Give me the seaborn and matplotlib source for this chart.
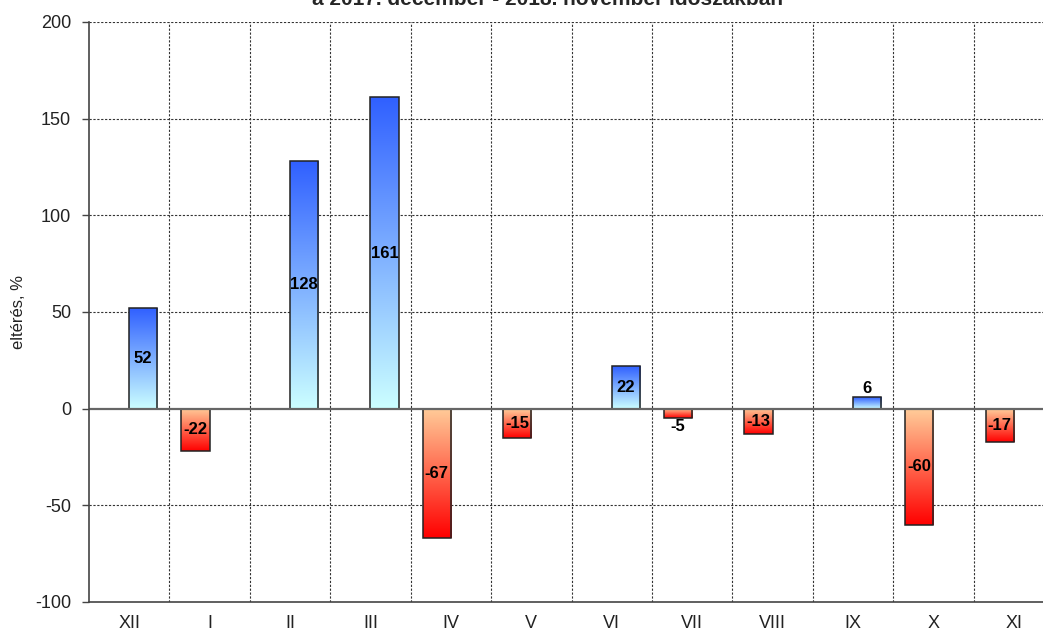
import numpy as np
import pandas as pd
import matplotlib
matplotlib.use("Agg")
import matplotlib.pyplot as plt
import seaborn as sns
from matplotlib.colors import LinearSegmentedColormap

months = ["XII", "I", "II", "III", "IV", "V", "VI", "VII", "VIII", "IX", "X", "XI"]
values = [52, -22, 128, 161, -67, -15, 22, -5, -13, 6, -60, -17]
title_text = "a 2017. december - 2018. november időszakban"
ylabel_text = "eltérés, %"
y_ticks = [-100, -50, 0, 50, 100, 150, 200]

df = pd.DataFrame({
    "month": months,
    "value": values,
    "sign": ["pos" if v > 0 else "neg" for v in values],
})

sns.set_theme(style="white")
plt.rcParams["font.family"] = ["Liberation Sans", "DejaVu Sans"]
plt.rcParams["axes.unicode_minus"] = False

fig = plt.figure(figsize=(10.43, 6.31), dpi=100)
ax = fig.add_axes([89 / 1043, 29 / 631, 965 / 1043, 580 / 631])

sns.barplot(data=df, x="month", y="value", hue="sign", hue_order=["neg", "pos"],
            order=months, width=0.7, dodge=True, legend=False, ax=ax,
            edgecolor="#222222", linewidth=1.1, saturation=1)

pos_cmap = LinearSegmentedColormap.from_list("pos", ["#ccffff", "#3060ff"])
neg_cmap = LinearSegmentedColormap.from_list("neg", ["#ff0000", "#ffcc99"])
grad = np.linspace(0, 1, 256).reshape(-1, 1)

for cont in ax.containers:
    for bar in cont:
        h = bar.get_height()
        if h is None or np.isnan(h) or h == 0:
            continue
        x0 = bar.get_x()
        w = bar.get_width()
        y0 = bar.get_y()
        ylo, yhi = min(y0, y0 + h), max(y0, y0 + h)
        cmap = pos_cmap if h > 0 else neg_cmap
        im = ax.imshow(grad, cmap=cmap, aspect="auto", origin="lower",
                       extent=[x0, x0 + w, ylo, yhi], zorder=1.5,
                       interpolation="bilinear")
        im.set_clip_path(bar)
        bar.set_facecolor("none")
        bar.set_zorder(2)
        xc = x0 + w / 2
        kw = dict(ha="center", fontsize=12, fontweight="bold", color="black", zorder=3)
        if abs(h) >= 10:
            ax.text(xc, (ylo + yhi) / 2, f"{h:.0f}", va="center", **kw)
        elif h > 0:
            ax.text(xc, yhi + 0.5, f"{h:.0f}", va="bottom", **kw)
        else:
            ax.text(xc, ylo - 0.5, f"{h:.0f}", va="top", **kw)

ax.set_xlim(-0.5, len(months) - 0.5)
ax.set_ylim(-100, 200)
ax.set_yticks(y_ticks)
ax.set_xlabel("")
ax.set_ylabel("")

# grid
for yv in y_ticks[1:]:
    if yv != 0:
        ax.axhline(yv, color="#333333", linestyle=(0, (2, 1.5)), linewidth=0.8, zorder=0.5)
for i in range(len(months) - 1):
    ax.axvline(i + 0.5, color="#333333", linestyle=(0, (2, 1.5)), linewidth=0.8, zorder=0.5)
ax.axhline(0, color="#666666", linewidth=1.6, zorder=2.5)

for s in ["top", "right"]:
    ax.spines[s].set_visible(False)
for s in ["left", "bottom"]:
    ax.spines[s].set_color("#444444")
    ax.spines[s].set_linewidth(1.2)

ax.tick_params(axis="y", left=True, length=5, width=1, color="#444444",
               labelsize=13, pad=8, labelcolor="#222222")
ax.tick_params(axis="x", bottom=False, length=0, labelsize=13, pad=9,
               labelcolor="#222222")

fig.text(18.5 / 1043, 1 - 312 / 631, ylabel_text, rotation=90, ha="center",
         va="center", fontsize=12, color="#222222")
fig.text(547 / 1043, 1 - 5 / 631, title_text, ha="center", va="baseline",
         fontsize=15, fontweight="bold")

fig.savefig("out.png", dpi=100)
